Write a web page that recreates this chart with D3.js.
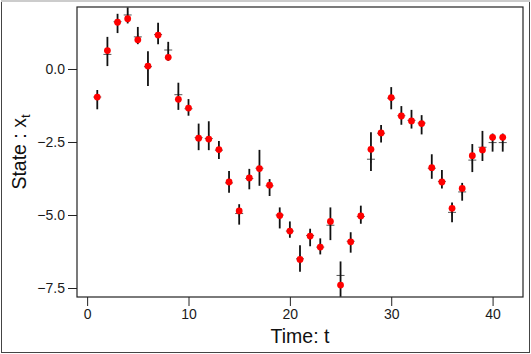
<!DOCTYPE html>
<html>
<head>
<meta charset="utf-8">
<script src="https://cdn.jsdelivr.net/npm/d3@7"></script>
<style>
  body { margin: 0; background: #fff; }
  svg { display: block; font-family: "Liberation Sans", Arial, sans-serif; }
</style>
</head>
<body>
<div id="chart"></div>
<script>
// time steps
const times = d3.range(1, 42)
// estimated state (red dots)
const estimate = [-0.96, 0.63, 1.60, 1.72, 1.00, 0.10, 1.16, 0.40, -1.04, -1.34,
  -2.37, -2.40, -2.76, -3.87, -4.86, -3.73, -3.41, -3.98, -5.02, -5.55,
  -6.52, -5.72, -6.10, -5.22, -7.40, -5.92, -5.03, -2.75, -2.19, -0.98,
  -1.61, -1.78, -1.87, -3.38, -3.87, -4.77, -4.09, -2.97, -2.77, -2.34, -2.34]
// interval bounds
const upper = [-0.72, 1.10, 1.89, 2.11, 1.44, 0.61, 1.58, 0.93, -0.47, -1.03,
  -1.87, -1.79, -2.47, -3.49, -4.63, -3.42, -2.77, -3.77, -4.74, -5.22,
  -6.04, -5.47, -5.80, -4.74, -6.59, -5.59, -4.68, -2.17, -1.92, -0.62,
  -1.27, -1.40, -1.58, -2.92, -3.46, -4.57, -3.90, -2.57, -2.12, -2.21, -2.21]
const lower = [-1.38, 0.10, 1.23, 1.56, 0.85, -0.58, 0.85, 0.28, -1.40, -1.60,
  -2.78, -2.78, -3.08, -4.24, -5.33, -4.12, -4.00, -4.35, -5.46, -5.78,
  -6.94, -6.07, -6.35, -5.86, -7.80, -6.29, -5.30, -3.49, -2.52, -1.38,
  -1.91, -2.04, -2.24, -3.76, -4.09, -5.25, -4.51, -3.53, -3.15, -2.83, -2.83]
// true state (crosses)
const truth = [-0.96, 0.50, 1.62, 1.85, 1.10, 0.08, 1.18, 0.65, -0.88, -1.36,
  -2.35, -2.38, -2.78, -3.90, -4.95, -3.75, -3.40, -4.00, -5.00, -5.55,
  -6.50, -5.70, -6.10, -5.35, -7.07, -5.90, -5.05, -3.09, -2.20, -1.00,
  -1.60, -1.76, -1.85, -3.40, -3.85, -4.91, -4.21, -3.12, -2.68, -2.52, -2.52]

const xTicks = [0, 10, 20, 30, 40]
const yTicks = [0, -2.5, -5, -7.5]

const width = 531
const height = 354
const panel = { left: 77, right: 523, top: 7, bottom: 297 }

const svg = d3.select("#chart")
  .append("svg")
  .attr("width", width)
  .attr("height", height)

// outer frame
svg.append("rect")
  .attr("x", 1.5).attr("y", 1.5)
  .attr("width", width - 3).attr("height", height - 3)
  .attr("fill", "none")
  .attr("stroke", "#444")
  .attr("stroke-width", 1)
svg.append("line")
  .attr("x1", 1).attr("x2", width - 1)
  .attr("y1", 1).attr("y2", 1)
  .attr("stroke", "#ccc")
  .attr("stroke-width", 2)

const xScale = d3.scaleLinear()
  .domain([-1, 43])
  .range([panel.left, panel.right])

const yScale = d3.scaleLinear()
  .domain([-7.808, 2.123])
  .range([panel.bottom, panel.top])

const data = times.map((t, i) => ({
  t: t, est: estimate[i], lo: lower[i], hi: upper[i], tr: truth[i]
}))

// axes
const xAxis = d3.axisBottom(xScale)
  .tickValues(xTicks)
  .tickFormat(d3.format("d"))
  .tickSize(9)
  .tickPadding(3)

svg.append("g")
  .attr("transform", `translate(0, ${panel.bottom})`)
  .call(xAxis)
  .call(g => g.select(".domain").remove())
  .call(g => g.selectAll("text").attr("font-size", 14).attr("fill", "#1a1a1a"))
  .call(g => g.selectAll("line").attr("stroke", "#222"))

const yAxis = d3.axisLeft(yScale)
  .tickValues(yTicks)
  .tickFormat(d3.format(".1f"))
  .tickSize(9)
  .tickPadding(3)

svg.append("g")
  .attr("transform", `translate(${panel.left}, 0)`)
  .call(yAxis)
  .call(g => g.select(".domain").remove())
  .call(g => g.selectAll("text").attr("font-size", 14).attr("fill", "#1a1a1a"))
  .call(g => g.selectAll("line").attr("stroke", "#222"))

const bounds = svg.append("g")

// true state crosses
const crosses = bounds.selectAll(".cross")
  .data(data)
  .join("g")
    .attr("class", "cross")
    .attr("transform", d => `translate(${xScale(d.t)}, ${yScale(d.tr)})`)
crosses.append("line")
  .attr("x1", -4).attr("x2", 4)
  .attr("stroke", "#555").attr("stroke-width", 1)
crosses.append("line")
  .attr("y1", -4).attr("y2", 4)
  .attr("stroke", "#555").attr("stroke-width", 1)

// error bars
bounds.selectAll(".bar")
  .data(data)
  .join("line")
    .attr("class", "bar")
    .attr("x1", d => xScale(d.t))
    .attr("x2", d => xScale(d.t))
    .attr("y1", d => yScale(d.hi))
    .attr("y2", d => yScale(d.lo))
    .attr("stroke", "#111")
    .attr("stroke-width", 1.8)

// estimates
bounds.selectAll(".dot")
  .data(data)
  .join("circle")
    .attr("class", "dot")
    .attr("cx", d => xScale(d.t))
    .attr("cy", d => yScale(d.est))
    .attr("r", 3.4)
    .attr("fill", "#ff0000")

// panel box
svg.append("rect")
  .attr("x", panel.left).attr("y", panel.top)
  .attr("width", panel.right - panel.left)
  .attr("height", panel.bottom - panel.top)
  .attr("fill", "none")
  .attr("stroke", "#222")
  .attr("stroke-width", 1.2)

// axis titles
svg.append("text")
  .attr("x", (panel.left + panel.right) / 2)
  .attr("y", 343)
  .attr("text-anchor", "middle")
  .attr("font-size", 19.5)
  .attr("fill", "#111")
  .text("Time: t")

const yTitle = svg.append("text")
  .attr("transform", `translate(26, ${(panel.top + panel.bottom) / 2}) rotate(-90)`)
  .attr("text-anchor", "middle")
  .attr("font-size", 19.5)
  .attr("fill", "#111")
yTitle.append("tspan").text("State : x")
yTitle.append("tspan")
  .attr("font-size", 13)
  .attr("dy", 4)
  .text("t")
</script>
</body>
</html>
